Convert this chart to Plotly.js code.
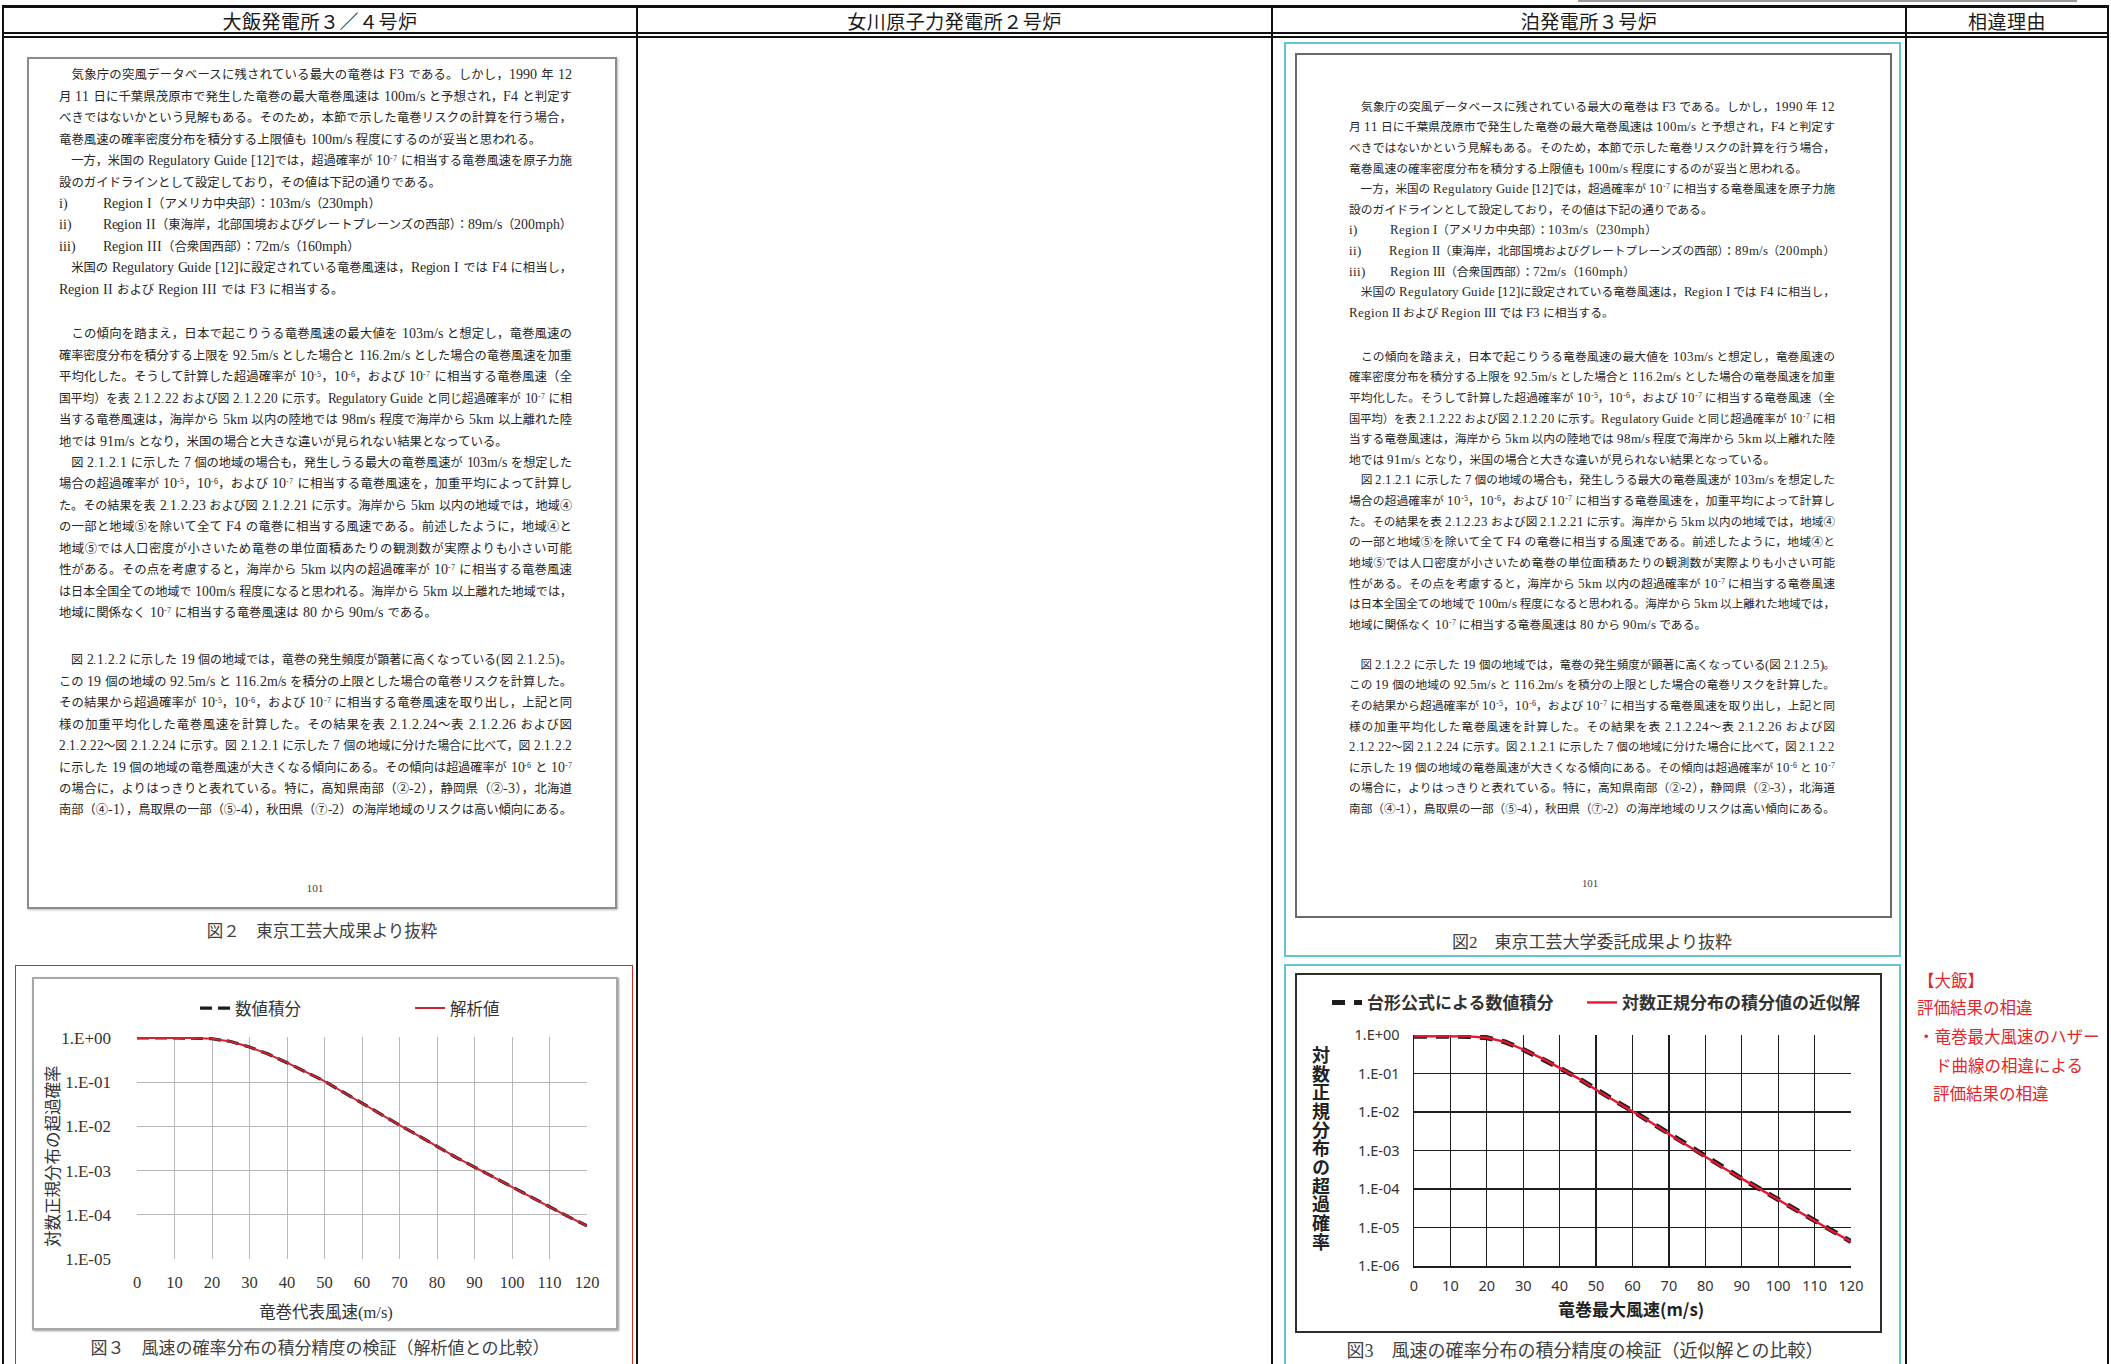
<!DOCTYPE html>
<html lang="ja"><head><meta charset="utf-8">
<script src="https://cdn.plot.ly/plotly-3.0.1.min.js"></script>
<style>
@font-face{font-family:"SerifAdj";src:local("Liberation Serif");size-adjust:110%;}
html,body{margin:0;padding:0;}
body{width:2111px;height:1364px;overflow:hidden;background:#fff;position:relative;font-family:"Noto Sans CJK JP",sans-serif;}
.a{position:absolute;}
.vl{position:absolute;top:6px;height:1364px;width:2px;background:#111;}
.hd{position:absolute;top:7px;height:27px;line-height:27px;text-align:center;font-size:19px;color:#1a1a1a;letter-spacing:0.5px;}
.ln{position:absolute;white-space:nowrap;color:#262626;font-family:"SerifAdj","Liberation Serif","Noto Sans CJK JP",serif;transform-origin:0 50%;}
.ln sup{font-size:0.6em;vertical-align:0.6em;line-height:0;}
.cap{position:absolute;white-space:nowrap;color:#404040;font-family:"Liberation Serif","Noto Sans CJK JP",serif;transform:translate(-50%,-50%);}
.red{position:absolute;white-space:nowrap;color:#e3262c;font-size:16.5px;transform:translateY(-50%);}
.frame{position:absolute;box-sizing:border-box;pointer-events:none;}
.vtitle{position:absolute;writing-mode:vertical-rl;text-orientation:upright;font-weight:bold;font-size:18px;letter-spacing:0.7px;line-height:18px;color:#222;font-family:"Noto Sans CJK JP",sans-serif;}
</style></head>
<body>
<!-- table -->
<div class="a" style="left:2px;top:5px;width:2107px;height:3px;background:#111"></div>
<div class="a" style="left:2px;top:32px;width:2107px;height:6px;box-sizing:border-box;border-top:2px solid #111;border-bottom:2px solid #111"></div>
<div class="vl" style="left:2px"></div>
<div class="vl" style="left:636px"></div>
<div class="vl" style="left:1271px"></div>
<div class="vl" style="left:1905px"></div>
<div class="vl" style="left:2107px"></div>
<div class="a" style="left:1578px;top:0px;width:499px;height:2px;background:#9a9a9a"></div>
<div id="headers"></div>

<!-- left column: document excerpt -->
<div class="frame" style="left:27px;top:57px;width:590px;height:852px;border:2px solid #8c8c8c;box-shadow:1px 1px 2px #bbb"></div>
<div id="docLeft"></div>
<div class="cap" style="left:322px;top:930px;font-size:16.5px">図２　東京工芸大成果より抜粋</div>

<!-- left chart -->
<div class="frame" style="left:15px;top:965px;width:618px;height:420px;border:1.5px solid #d22a2a"></div>
<div id="chartOhi" class="a" style="left:32px;top:977px;width:586px;height:353px"></div>
<div class="frame" style="left:32px;top:977px;width:586px;height:353px;border:2px solid #a8a8a8;box-shadow:1px 1px 2px #999"></div>
<div class="cap" style="left:320px;top:1346px;font-size:17px">図３　風速の確率分布の積分精度の検証（解析値との比較）</div>

<!-- right (Tomari) column -->
<div class="frame" style="left:1284px;top:42px;width:617px;height:915px;border:2px solid #62c4d4"></div>
<div class="frame" style="left:1295px;top:53px;width:597px;height:865px;border:2px solid #6a6a6a"></div>
<div id="docRight"></div>
<div class="cap" style="left:1592px;top:940px;font-size:17px">図2　東京工芸大学委託成果より抜粋</div>
<div class="frame" style="left:1284px;top:964px;width:617px;height:420px;border:2px solid #62c4d4"></div>
<div id="chartTomari" class="a" style="left:1296px;top:973px;width:586px;height:360px"></div>
<div class="frame" style="left:1295px;top:973px;width:587px;height:360px;border:2px solid #2e2e2e"></div>
<div id="tomariYTitle" class="vtitle" style="left:1312px;top:1046px"></div>
<div class="cap" style="left:1585px;top:1349px;font-size:18px">図3　風速の確率分布の積分精度の検証（近似解との比較）</div>

<div id="reason"></div>

<script>
// ---------------- chart data ----------------
const windSpeed = [0,5,10,15,20,25,30,35,40,45,50,55,60,65,70,75,80,85,90,95,100,105,110,115,120];
const ohiNumerical = [1,1,1,0.99,0.955,0.83,0.62,0.43,0.275,0.17,0.105,0.059,0.033,0.019,0.0107,0.0062,0.0035,0.002,0.0012,0.00071,0.00043,0.00025,0.00015,0.000091,0.000056];
const ohiAnalytic  = [1,1,1,0.99,0.955,0.83,0.62,0.43,0.275,0.17,0.105,0.059,0.033,0.019,0.0107,0.0062,0.0035,0.002,0.0012,0.00071,0.00043,0.00025,0.00015,0.000091,0.000056];
const tomariNumerical = [0.93,0.93,0.93,0.92,0.85,0.66,0.42,0.25,0.14,0.076,0.038,0.02,0.0107,0.0054,0.0027,0.00135,0.00068,0.00035,0.000186,0.0001,0.000054,0.000028,0.000015,0.0000079,0.0000043];
const tomariApprox    = [0.93,0.93,0.93,0.92,0.85,0.66,0.42,0.25,0.14,0.076,0.038,0.02,0.0107,0.0054,0.0027,0.00135,0.00068,0.00035,0.000186,0.0001,0.000054,0.000028,0.000015,0.0000079,0.0000043];
const xTickVals = [0,10,20,30,40,50,60,70,80,90,100,110,120];
const tomariTopTickVals = [0,5,10,15,20,25,30,35,40,45,50,55,60,65,70,75,80,85,90,95,100,105,110,115,120];
const ohiYTickVals = [1,0.1,0.01,0.001,0.0001,0.00001];
const ohiYTickText = ["1.E+00","1.E-01","1.E-02","1.E-03","1.E-04","1.E-05"];
const tomariYTickVals = [1,0.1,0.01,0.001,0.0001,0.00001,0.000001];
const tomariYTickText = ["1.E+00","1.E-01","1.E-02","1.E-03","1.E-04","1.E-05","1.E-06"];
const ohiSeriesNames = ["数値積分","解析値"];
const tomariSeriesNames = ["台形公式による数値積分","対数正規分布の積分値の近似解"];
const ohiXTitle = "竜巻代表風速(m/s)";
const ohiYTitle = "対数正規分布の超過確率";
const tomariXTitle = "竜巻最大風速(m/s)";
const tomariYTitle = "対数正規分布の超過確率";

// ---------------- table text ----------------
const columnHeaders = ["大飯発電所３／４号炉","女川原子力発電所２号炉","泊発電所３号炉","相違理由"];
const reasonLines = ["【大飯】","評価結果の相違","・竜巻最大風速のハザー","ド曲線の相違による","評価結果の相違"];

const docBlock1 = [
 ["　気象庁の突風データベースに残されている最大の竜巻は F3 である。しかし，1990 年 12",
  "月 11 日に千葉県茂原市で発生した竜巻の最大竜巻風速は 100m/s と予想され，F4 と判定す",
  "べきではないかという見解もある。そのため，本節で示した竜巻リスクの計算を行う場合，",
  "竜巻風速の確率密度分布を積分する上限値も 100m/s 程度にするのが妥当と思われる。"],
 ["　一方，米国の Regulatory Guide [12]では，超過確率が 10<sup>-7</sup> に相当する竜巻風速を原子力施",
  "設のガイドラインとして設定しており，その値は下記の通りである。"],
 [{label:"i)", text:"Region I（アメリカ中央部）：103m/s（230mph）"}],
 [{label:"ii)", text:"Region II（東海岸，北部国境およびグレートプレーンズの西部）：89m/s（200mph）"}],
 [{label:"iii)", text:"Region III（合衆国西部）：72m/s（160mph）"}],
 ["　米国の Regulatory Guide [12]に設定されている竜巻風速は，Region I では F4 に相当し，",
  "Region II および Region III では F3 に相当する。"]
];
const docBlock2 = [
 ["　この傾向を踏まえ，日本で起こりうる竜巻風速の最大値を 103m/s と想定し，竜巻風速の",
  "確率密度分布を積分する上限を 92.5m/s とした場合と 116.2m/s とした場合の竜巻風速を加重",
  "平均化した。そうして計算した超過確率が 10<sup>-5</sup>，10<sup>-6</sup>，および 10<sup>-7</sup> に相当する竜巻風速（全",
  "国平均）を表 2.1.2.22 および図 2.1.2.20 に示す。Regulatory Guide と同じ超過確率が 10<sup>-7</sup> に相",
  "当する竜巻風速は，海岸から 5km 以内の陸地では 98m/s 程度で海岸から 5km 以上離れた陸",
  "地では 91m/s となり，米国の場合と大きな違いが見られない結果となっている。"],
 ["　図 2.1.2.1 に示した 7 個の地域の場合も，発生しうる最大の竜巻風速が 103m/s を想定した",
  "場合の超過確率が 10<sup>-5</sup>，10<sup>-6</sup>，および 10<sup>-7</sup> に相当する竜巻風速を，加重平均によって計算し",
  "た。その結果を表 2.1.2.23 および図 2.1.2.21 に示す。海岸から 5km 以内の地域では，地域④",
  "の一部と地域⑤を除いて全て F4 の竜巻に相当する風速である。前述したように，地域④と",
  "地域⑤では人口密度が小さいため竜巻の単位面積あたりの観測数が実際よりも小さい可能",
  "性がある。その点を考慮すると，海岸から 5km 以内の超過確率が 10<sup>-7</sup> に相当する竜巻風速",
  "は日本全国全ての地域で 100m/s 程度になると思われる。海岸から 5km 以上離れた地域では，",
  "地域に関係なく 10<sup>-7</sup> に相当する竜巻風速は 80 から 90m/s である。"]
];
const docBlock3 = [
 ["　図 2.1.2.2 に示した 19 個の地域では，竜巻の発生頻度が顕著に高くなっている(図 2.1.2.5)。",
  "この 19 個の地域の 92.5m/s と 116.2m/s を積分の上限とした場合の竜巻リスクを計算した。",
  "その結果から超過確率が 10<sup>-5</sup>，10<sup>-6</sup>，および 10<sup>-7</sup> に相当する竜巻風速を取り出し，上記と同",
  "様の加重平均化した竜巻風速を計算した。その結果を表 2.1.2.24～表 2.1.2.26 および図",
  "2.1.2.22～図 2.1.2.24 に示す。図 2.1.2.1 に示した 7 個の地域に分けた場合に比べて，図 2.1.2.2",
  "に示した 19 個の地域の竜巻風速が大きくなる傾向にある。その傾向は超過確率が 10<sup>-6</sup> と 10<sup>-7</sup>",
  "の場合に，よりはっきりと表れている。特に，高知県南部（②-2），静岡県（②-3），北海道",
  "南部（④-1），鳥取県の一部（⑤-4），秋田県（⑦-2）の海岸地域のリスクは高い傾向にある。"]
];
const docBlocks = [docBlock1, docBlock2, docBlock3];
const pageNumber = "101";

// ---------------- page layout helpers ----------------
const colEdges = [3,637,1272,1906,2108];
const hdr = document.getElementById('headers');
columnHeaders.forEach((t,i)=>{
  const d=document.createElement('div'); d.className='hd';
  d.style.left=colEdges[i]+'px'; d.style.width=(colEdges[i+1]-colEdges[i])+'px';
  d.textContent=t; hdr.appendChild(d);
});

function renderDoc(containerId, opt){
  const box=document.getElementById(containerId);
  const lines=[];
  docBlocks.forEach((block,bi)=>{
    let y=opt.starts[bi];
    block.forEach(par=>{
      par.forEach((ln,li)=>{
        const d=document.createElement('div'); d.className='ln';
        d.style.left=opt.left+'px'; d.style.fontSize=opt.size+'px';
        d.style.height=opt.size*1.4+'px'; d.style.lineHeight=opt.size*1.4+'px';
        d.style.top=(y-opt.size*0.7)+'px'; d.style.width=opt.width+'px';
        const s=document.createElement('span');
        if(typeof ln==='object'){
          s.innerHTML='<span style="display:inline-block;width:'+opt.labelW+'px">'+ln.label+'</span>'+ln.text;
        } else s.innerHTML=ln;
        d.appendChild(s); box.appendChild(d);
        lines.push({d:d,s:s,just:(li<par.length-1)&&typeof ln!=='object'});
        y+=opt.step;
      });
    });
  });
  lines.forEach(o=>{
    const w=o.s.getBoundingClientRect().width;
    if(w>opt.width){ o.d.style.width=w+'px'; o.d.style.transform='scaleX('+(opt.width/w)+')'; }
    else if(o.just){ o.d.style.textAlign='justify'; o.d.style.textAlignLast='justify'; }
  });
  const p=document.createElement('div'); p.className='cap';
  p.style.left=opt.pageX+'px'; p.style.top=opt.pageY+'px'; p.style.fontSize=(opt.size-1)+'px';
  p.textContent=pageNumber; box.appendChild(p);
}
renderDoc('docLeft',{left:59,width:513,size:12.4,step:21.45,starts:[75,334,660],labelW:44,pageX:315,pageY:888});
renderDoc('docRight',{left:1349,width:486,size:11.8,step:20.62,starts:[107,357,665],labelW:41,pageX:1590,pageY:883});

const reasonPos=[[1918,980],[1917,1007],[1918,1036],[1935,1065],[1933,1093]];
const rs=document.getElementById('reason');
reasonLines.forEach((t,i)=>{
  const d=document.createElement('div'); d.className='red';
  d.style.left=reasonPos[i][0]+'px'; d.style.top=reasonPos[i][1]+'px'; d.textContent=t; rs.appendChild(d);
});
document.getElementById('tomariYTitle').textContent=tomariYTitle;

// ---------------- Ohi chart ----------------
const serifCJK='"Liberation Serif","Noto Sans CJK JP",serif';
const ohiPlotH=222, ohiPlotW=450;
Plotly.newPlot('chartOhi',[
  {x:windSpeed,y:ohiNumerical,name:ohiSeriesNames[0],mode:'lines',legendwidth:170,line:{color:'#1c1c1c',width:3.2,dash:'12px,6px'}},
  {x:windSpeed,y:ohiAnalytic,name:ohiSeriesNames[1],mode:'lines',legendwidth:60,line:{color:'#cf2330',width:2}}
],{
  width:586,height:353,margin:{l:105,r:31,t:60,b:71},
  paper_bgcolor:'#fff',plot_bgcolor:'#fff',
  font:{family:serifCJK,size:16.5,color:'#333'},
  showlegend:true,
  legend:{orientation:'h',x:0.129,y:1.129,xanchor:'left',yanchor:'middle',entrywidthmode:'pixels',bgcolor:'rgba(0,0,0,0)',font:{family:serifCJK,size:16.5,color:'#333'}},
  xaxis:{range:[0,120],tickvals:xTickVals,showgrid:true,gridcolor:'#b8b8b8',gridwidth:1,zeroline:false,showline:false,ticks:'',ticklabelstandoff:11,tickfont:{family:serifCJK,size:16.5,color:'#333'}},
  yaxis:{type:'log',range:[-5,0.02],tickvals:ohiYTickVals,ticktext:ohiYTickText,showgrid:true,gridcolor:'#b8b8b8',gridwidth:1,zeroline:false,showline:false,ticks:'',ticklabelstandoff:25,tickfont:{family:serifCJK,size:17,color:'#333'}},
  annotations:[
    {text:ohiXTitle,xref:'paper',yref:'paper',x:(326-137)/ohiPlotW,y:-53/ohiPlotH,xanchor:'center',yanchor:'middle',showarrow:false,font:{family:serifCJK,size:16.5,color:'#333'}},
    {text:ohiYTitle,xref:'paper',yref:'paper',x:(53-137)/ohiPlotW,y:(1259-1156)/ohiPlotH,xanchor:'center',yanchor:'middle',textangle:-90,showarrow:false,font:{family:serifCJK,size:16.5,color:'#333'}}
  ]
},{staticPlot:true,displayModeBar:false});

// ---------------- Tomari chart ----------------
const sansJP='"Noto Sans","Noto Sans CJK JP",sans-serif';
const tPlotH=238, tPlotW=437;
Plotly.newPlot('chartTomari',[
  {x:windSpeed,y:tomariNumerical,name:tomariSeriesNames[0],mode:'lines',legendwidth:210,line:{color:'#1c1c1c',width:5,dash:'13px,9px'}},
  {x:windSpeed,y:tomariApprox,name:tomariSeriesNames[1],mode:'lines',legendwidth:250,line:{color:'#e5172f',width:2.4}}
],{
  width:586,height:360,margin:{l:118,r:31,t:55,b:67},
  paper_bgcolor:'#fff',plot_bgcolor:'#fff',
  font:{family:sansJP,size:14.5,color:'#333'},
  showlegend:true,
  legend:{orientation:'h',x:-0.199,y:1.139,xanchor:'left',yanchor:'middle',entrywidthmode:'pixels',bgcolor:'rgba(0,0,0,0)',font:{family:'"Noto Sans CJK JP",sans-serif',size:17,weight:'bold',color:'#333'}},
  xaxis:{range:[0,120],tickvals:xTickVals,showgrid:true,gridcolor:'#1e1e1e',gridwidth:1.3,zeroline:false,showline:true,linecolor:'#1e1e1e',linewidth:1.5,ticks:'',ticklabelstandoff:6,tickfont:{family:sansJP,size:14.5,color:'#333'}},
  xaxis2:{overlaying:'x',anchor:'y',side:'top',range:[0,120],tickvals:tomariTopTickVals,ticks:'inside',ticklen:5,tickwidth:1.5,tickcolor:'#1e1e1e',showticklabels:false,showgrid:false,zeroline:false,showline:true,linecolor:'#1e1e1e',linewidth:1.5},
  yaxis:{type:'log',range:[-6,0],tickvals:tomariYTickVals,ticktext:tomariYTickText,showgrid:true,gridcolor:'#1e1e1e',gridwidth:1.3,zeroline:false,showline:true,linecolor:'#1e1e1e',linewidth:1.5,ticks:'',ticklabelstandoff:10,tickfont:{family:sansJP,size:14.5,color:'#333'}},
  annotations:[{text:tomariXTitle,xref:'paper',yref:'paper',x:0.497,y:-44/tPlotH,xanchor:'center',yanchor:'middle',showarrow:false,font:{family:'"Noto Sans CJK JP",sans-serif',size:17,weight:'bold',color:'#222'}}]
},{staticPlot:true,displayModeBar:false});
</script>
</body></html>
